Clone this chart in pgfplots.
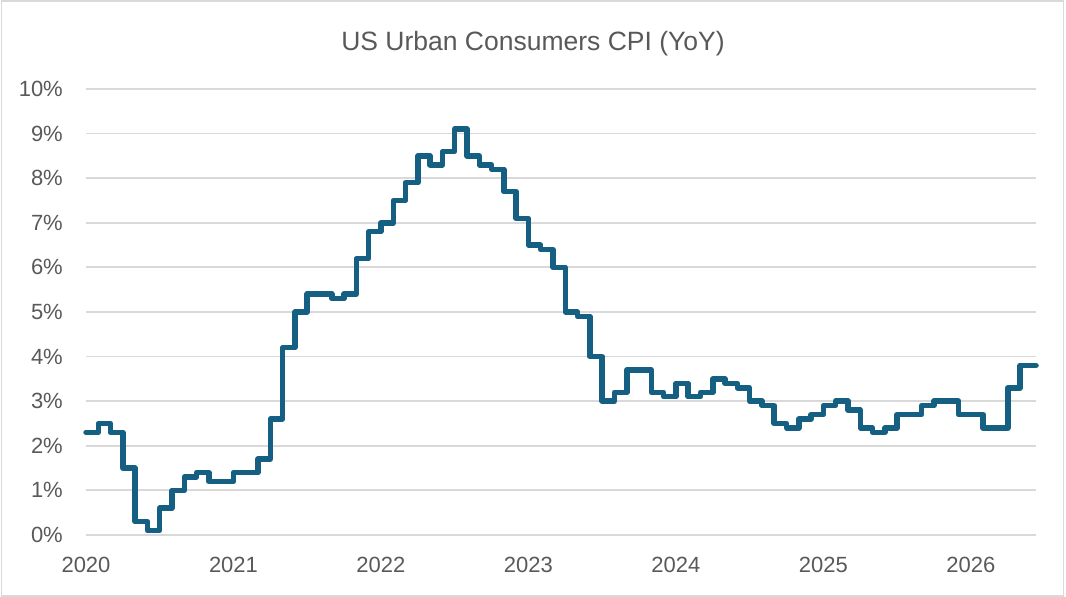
\documentclass[border=0pt]{standalone}
\usepackage{pgfplots}
\pgfplotsset{compat=1.18}
\usepackage{fontspec}
\setmainfont{Liberation Sans}
\definecolor{cpiline}{HTML}{156082}
\definecolor{txtgray}{HTML}{595959}
\definecolor{gridgray}{HTML}{D9D9D9}
\begin{document}
\begin{tikzpicture}[x=1bp,y=1bp]
\path[use as bounding box] (0,0) rectangle (1066,597);
\draw[gridgray, line width=1.5bp] (1.5,1) rectangle (1063.5,596);
\node[text=txtgray, font=\fontsize{26.5bp}{30bp}\selectfont] at (533,553) {US Urban Consumers CPI (YoY)};
\begin{axis}[
  at={(86bp,62bp)}, anchor=south west,
  scale only axis, width=950bp, height=446bp,
  xmin=0, xmax=77.3, ymin=0, ymax=10,
  axis line style={draw=none},
  major tick length=0pt,
  ymajorgrids, grid style={gridgray, line width=1.8bp},
  xtick={0,12,24,36,48,60,72},
  xticklabels={2020,2021,2022,2023,2024,2025,2026},
  ytick={0,1,2,3,4,5,6,7,8,9,10},
  yticklabels={0\%,1\%,2\%,3\%,4\%,5\%,6\%,7\%,8\%,9\%,10\%},
  tick label style={text=txtgray, font=\fontsize{22bp}{25bp}\selectfont, inner sep=0pt},
  yticklabel style={anchor=east, xshift=-23bp},
  xticklabel style={anchor=north, yshift=-22bp},
  clip=false,
]
\addplot[const plot, cpiline, line width=5.5bp, line join=round, line cap=round] coordinates {
(0,2.3) (1,2.5) (2,2.3) (3,1.5) (4,0.3) (5,0.1) (6,0.6) (7,1.0) (8,1.3) (9,1.4) (10,1.2) (11,1.2)
(12,1.4) (13,1.4) (14,1.7) (15,2.6) (16,4.2) (17,5.0) (18,5.4) (19,5.4) (20,5.3) (21,5.4) (22,6.2) (23,6.8)
(24,7.0) (25,7.5) (26,7.9) (27,8.5) (28,8.3) (29,8.6) (30,9.1) (31,8.5) (32,8.3) (33,8.2) (34,7.7) (35,7.1)
(36,6.5) (37,6.4) (38,6.0) (39,5.0) (40,4.9) (41,4.0) (42,3.0) (43,3.2) (44,3.7) (45,3.7) (46,3.2) (47,3.1)
(48,3.4) (49,3.1) (50,3.2) (51,3.5) (52,3.4) (53,3.3) (54,3.0) (55,2.9) (56,2.5) (57,2.4) (58,2.6) (59,2.7)
(60,2.9) (61,3.0) (62,2.8) (63,2.4) (64,2.3) (65,2.4) (66,2.7) (67,2.7) (68,2.9) (69,3.0) (70,3.0) (71,2.7)
(72,2.7) (73,2.4) (74,2.4) (75,3.3) (76,3.8) (77.3,3.8)
};
\end{axis}
\end{tikzpicture}
\end{document}
